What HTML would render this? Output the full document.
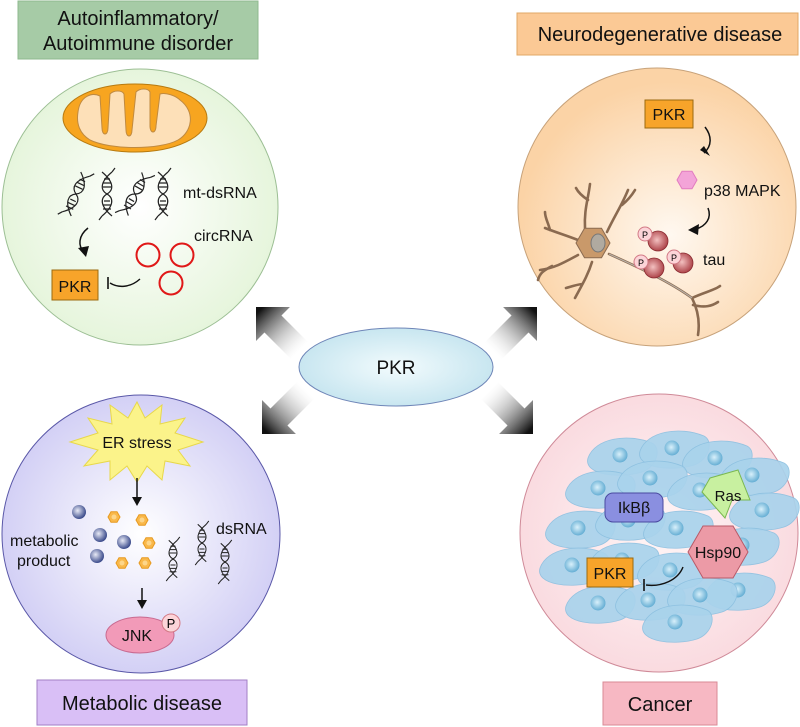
<!DOCTYPE html>
<html><head><meta charset="utf-8"><style>
html,body{margin:0;padding:0;background:#fff;}
svg{display:block;font-family:"Liberation Sans",Arial,sans-serif;}
</style></head><body>
<svg width="800" height="727" viewBox="0 0 800 727" xmlns="http://www.w3.org/2000/svg">
<defs>
<radialGradient id="gG" cx="0.5" cy="0.5" r="0.5"><stop offset="0" stop-color="#ffffff"/><stop offset="1" stop-color="#e6f5dc"/></radialGradient>
<radialGradient id="gO" cx="0.55" cy="0.6" r="0.55"><stop offset="0" stop-color="#fff8f0"/><stop offset="1" stop-color="#fbd3a6"/></radialGradient>
<radialGradient id="gP" cx="0.5" cy="0.5" r="0.5"><stop offset="0" stop-color="#ffffff"/><stop offset="1" stop-color="#d3d0f5"/></radialGradient>
<radialGradient id="gR" cx="0.5" cy="0.5" r="0.5"><stop offset="0" stop-color="#fff5f6"/><stop offset="1" stop-color="#fadbe0"/></radialGradient>
<radialGradient id="gE" cx="0.5" cy="0.5" r="0.5"><stop offset="0" stop-color="#f2fbfd"/><stop offset="1" stop-color="#c8e6f0"/></radialGradient>
<radialGradient id="gBall" cx="0.4" cy="0.4" r="0.6"><stop offset="0" stop-color="#e8eaf6"/><stop offset="1" stop-color="#3c4c8c"/></radialGradient>
<radialGradient id="gTau" cx="0.45" cy="0.45" r="0.6"><stop offset="0" stop-color="#f3c0c0"/><stop offset="1" stop-color="#a83a40"/></radialGradient>
<radialGradient id="gNuc" cx="0.45" cy="0.45" r="0.6"><stop offset="0" stop-color="#d8f0fb"/><stop offset="1" stop-color="#5ba8d0"/></radialGradient>
<linearGradient id="gArr" gradientUnits="userSpaceOnUse" x1="-62" y1="0" x2="-5" y2="0"><stop offset="0" stop-color="#ffffff" stop-opacity="0.2"/><stop offset="1" stop-color="#111"/></linearGradient>
<g id="arrow"><path d="M0,0 L-24,-24 L-24,-12 L-64,-12 L-64,12 L-24,12 L-24,24 Z" fill="url(#gArr)"/></g>
<g id="dna" fill="none" stroke="#222" stroke-width="1.2">
<path d="M-5,-22 C7,-12 7,-4 0,0 C-7,4 -7,12 5,22"/>
<path d="M5,-22 C-7,-12 -7,-4 0,0 C7,4 7,12 -5,22"/>
<path d="M-3,-15 H3 M-4,-11 H4 M-4,-7 H4 M-3,7 H3 M-4,11 H4 M-4,15 H4"/>
<path d="M5,-22 L8,-26 M-5,22 L-8,26"/>
</g>
<g id="cell"><path d="M-32,3 C-25,-17 8,-22 32,-12 C42,-7 37,12 22,17 C0,24 -37,20 -32,3 Z" fill="#a9d3ec" stroke="#8cc0e0" stroke-width="0.8" opacity="0.92"/><circle cx="0" cy="0" r="7.5" fill="url(#gNuc)"/></g>
<g id="hexo"><polygon points="6,0 3,5.2 -3,5.2 -6,0 -3,-5.2 3,-5.2" fill="#f9b84a" stroke="#e79a20" stroke-width="1"/><circle r="2.5" fill="#fdd68a"/></g>
</defs>

<!-- Arrows -->
<use href="#arrow" transform="translate(256,307) rotate(225)"/>
<use href="#arrow" transform="translate(537,307) rotate(-45)"/>
<use href="#arrow" transform="translate(262,434) rotate(135)"/>
<use href="#arrow" transform="translate(533,434) rotate(45)"/>

<!-- Center ellipse -->
<ellipse cx="396" cy="367" rx="97" ry="39" fill="url(#gE)" stroke="#6f86b8" stroke-width="1"/>
<text x="396" y="374" font-size="19" text-anchor="middle" fill="#111">PKR</text>

<!-- Top-left panel -->
<rect x="18" y="1" width="240" height="58" fill="#a6cba6" stroke="#8fb98f"/>
<text x="138" y="25" font-size="20" text-anchor="middle" fill="#111">Autoinflammatory/</text>
<text x="138" y="50" font-size="20" text-anchor="middle" fill="#111">Autoimmune disorder</text>
<circle cx="140" cy="207" r="138" fill="url(#gG)" stroke="#9cbf94" stroke-width="1"/>
<ellipse cx="135" cy="118" rx="72" ry="34" fill="#f7a520" stroke="#b77a10"/>
<path d="M78,112 C80,96 92,92 100,96 L102,128 C102,136 108,136 108,128 L110,94 C114,90 122,90 124,94 L126,130 C126,138 132,138 132,130 L136,92 C140,88 148,88 150,92 L150,126 C150,134 156,134 156,126 L160,94 C166,92 176,96 180,100 C196,112 192,132 178,140 C160,150 110,150 90,140 C80,134 76,124 78,112 Z" fill="#fde0b8" stroke="#c08a40"/>
<use href="#dna" transform="translate(76,194) rotate(25)"/>
<use href="#dna" transform="translate(107,194)"/>
<use href="#dna" transform="translate(135,194) rotate(30)"/>
<use href="#dna" transform="translate(163,194)"/>
<text x="183" y="198" font-size="16" fill="#111">mt-dsRNA</text>
<text x="194" y="241" font-size="16" fill="#111">circRNA</text>
<path d="M88,228 C78,236 78,246 84,252" fill="none" stroke="#111" stroke-width="1.5"/>
<path d="M78,248 L86,257 L89,246 Z" fill="#111"/>
<circle cx="148" cy="255" r="11.5" fill="none" stroke="#e01818" stroke-width="2"/>
<circle cx="182" cy="255" r="11.5" fill="none" stroke="#e01818" stroke-width="2"/>
<circle cx="171" cy="283" r="11.5" fill="none" stroke="#e01818" stroke-width="2"/>
<rect x="52" y="270" width="46" height="30" fill="#f7a42a" stroke="#9b6a10"/>
<text x="75" y="292" font-size="16" text-anchor="middle" fill="#111">PKR</text>
<path d="M140,279 C130,288 118,288 110,283" fill="none" stroke="#111" stroke-width="1.4"/>
<path d="M108,277 L108,289" stroke="#111" stroke-width="1.6"/>

<!-- Top-right panel -->
<rect x="517" y="13" width="281" height="42" fill="#fbc995" stroke="#e2a866"/>
<text x="660" y="41" font-size="20" text-anchor="middle" fill="#111">Neurodegenerative disease</text>
<circle cx="657" cy="207" r="139" fill="url(#gO)" stroke="#c7a27a" stroke-width="1"/>
<rect x="645" y="100" width="48" height="28" fill="#f7a42a" stroke="#9b6a10"/>
<text x="669" y="120" font-size="16" text-anchor="middle" fill="#111">PKR</text>
<path d="M705,127 C712,136 712,146 704,153" fill="none" stroke="#111" stroke-width="1.5"/>
<path d="M700,150 L710,156 L704,146 Z" fill="#111"/>
<polygon points="697,180 692,188.7 682,188.7 677,180 682,171.3 692,171.3" fill="#f3a4d8" stroke="#e27cc0"/>
<text x="704" y="196" font-size="16" fill="#111">p38 MAPK</text>
<path d="M708,208 C712,218 706,226 696,229" fill="none" stroke="#111" stroke-width="1.5"/>
<path d="M688,230 L699,224 L698,235 Z" fill="#111"/>
<!-- neuron -->
<g stroke="#8a6a50" stroke-width="2.6" fill="none" stroke-linecap="round">
<path d="M609,254 C640,268 670,282 692,298 C698,310 700,322 698,335"/>
<path d="M692,298 C705,292 715,290 720,286 M693,305 C705,308 712,306 718,302"/>
<path d="M585,228 C584,210 588,200 590,184 M588,200 C582,196 578,192 576,188"/>
<path d="M607,232 C615,215 622,205 628,190 M622,205 C628,200 632,195 635,190"/>
<path d="M578,240 C565,235 555,232 545,228 M550,230 C548,222 545,218 545,212"/>
<path d="M578,255 C565,262 555,268 540,270 M552,266 C545,270 540,272 538,280"/>
<path d="M592,262 C588,275 582,285 575,298 M582,284 C575,285 570,287 566,288"/>
</g>
<path d="M609,254 C640,268 670,282 692,298" stroke="#b8b0a8" stroke-width="1.2" fill="none"/>
<polygon points="610,243 601.5,257.7 584.5,257.7 576,243 584.5,228.3 601.5,228.3" fill="#c9996a" stroke="#8a6a50"/>
<ellipse cx="598" cy="243" rx="7" ry="9" fill="#b0aaa0" stroke="#777"/>
<circle cx="658" cy="241" r="10" fill="url(#gTau)" stroke="#8a2a30" stroke-width="0.8"/>
<circle cx="645" cy="234" r="7" fill="#fcd4d8" stroke="#d27a86"/><text x="645" y="238" font-size="9" text-anchor="middle">P</text>
<circle cx="654" cy="268" r="10" fill="url(#gTau)" stroke="#8a2a30" stroke-width="0.8"/>
<circle cx="641" cy="262" r="7" fill="#fcd4d8" stroke="#d27a86"/><text x="641" y="266" font-size="9" text-anchor="middle">P</text>
<circle cx="683" cy="263" r="10" fill="url(#gTau)" stroke="#8a2a30" stroke-width="0.8"/>
<circle cx="674" cy="257" r="7" fill="#fcd4d8" stroke="#d27a86"/><text x="674" y="261" font-size="9" text-anchor="middle">P</text>
<text x="703" y="265" font-size="16" fill="#111">tau</text>

<!-- Bottom-left panel -->
<circle cx="141" cy="534" r="139" fill="url(#gP)" stroke="#5a58a8" stroke-width="1"/>
<path d="M137,402 L145,418 L162,405 L160,424 L185,418 L175,433 L203,442 L178,450 L190,466 L165,461 L162,480 L147,466 L137,482 L127,466 L110,480 L110,461 L84,466 L98,450 L70,442 L98,433 L88,418 L112,424 L110,405 L128,418 Z" fill="#fbf38a" stroke="#e8d84a"/>
<text x="137" y="448" font-size="16" text-anchor="middle" fill="#111">ER stress</text>
<path d="M137,478 V500" stroke="#111" stroke-width="1.5"/><path d="M132,497 L137,506 L142,497 Z" fill="#111"/>
<circle cx="79" cy="512" r="7" fill="url(#gBall)"/>
<circle cx="100" cy="535" r="7" fill="url(#gBall)"/>
<circle cx="124" cy="542" r="7" fill="url(#gBall)"/>
<circle cx="97" cy="556" r="7" fill="url(#gBall)"/>
<use href="#hexo" transform="translate(114,517)"/>
<use href="#hexo" transform="translate(142,520)"/>
<use href="#hexo" transform="translate(149,543)"/>
<use href="#hexo" transform="translate(122,563)"/>
<use href="#hexo" transform="translate(145,563)"/>
<text x="10" y="546" font-size="16" fill="#111">metabolic</text>
<text x="17" y="566" font-size="16" fill="#111">product</text>
<use href="#dna" transform="translate(173,559) scale(0.85)"/>
<use href="#dna" transform="translate(202,543) scale(0.85)"/>
<use href="#dna" transform="translate(225,562) scale(0.85)"/>
<text x="216" y="534" font-size="16" fill="#111">dsRNA</text>
<path d="M142,588 V602" stroke="#111" stroke-width="1.5"/><path d="M137,600 L142,609 L147,600 Z" fill="#111"/>
<ellipse cx="140" cy="635" rx="34" ry="18" fill="#f29ab8" stroke="#c86a90"/>
<text x="137" y="641" font-size="16" text-anchor="middle" fill="#111">JNK</text>
<circle cx="171" cy="623" r="9" fill="#fcd4d8" stroke="#d27a86"/><text x="171" y="628" font-size="13" text-anchor="middle">P</text>
<rect x="37" y="680" width="210" height="45" fill="#d9bff6" stroke="#a27fc4"/>
<text x="142" y="710" font-size="20" text-anchor="middle" fill="#111">Metabolic disease</text>

<!-- Bottom-right panel -->
<circle cx="659" cy="533" r="139" fill="url(#gR)" stroke="#cf8a98" stroke-width="1"/>
<use href="#cell" transform="translate(620,455)"/>
<use href="#cell" transform="translate(672,448)"/>
<use href="#cell" transform="translate(715,458)"/>
<use href="#cell" transform="translate(752,475)"/>
<use href="#cell" transform="translate(598,488)"/>
<use href="#cell" transform="translate(650,478)"/>
<use href="#cell" transform="translate(700,490)"/>
<use href="#cell" transform="translate(762,510)"/>
<use href="#cell" transform="translate(578,528)"/>
<use href="#cell" transform="translate(628,520)"/>
<use href="#cell" transform="translate(676,528)"/>
<use href="#cell" transform="translate(742,545)"/>
<use href="#cell" transform="translate(572,565)"/>
<use href="#cell" transform="translate(622,560)"/>
<use href="#cell" transform="translate(670,570)"/>
<use href="#cell" transform="translate(738,590)"/>
<use href="#cell" transform="translate(598,603)"/>
<use href="#cell" transform="translate(648,600)"/>
<use href="#cell" transform="translate(700,595)"/>
<use href="#cell" transform="translate(675,622)"/>
<rect x="605" y="493" width="58" height="29" rx="8" fill="#8a8fe0" stroke="#4a4aa0"/>
<text x="634" y="513" font-size="16" text-anchor="middle" fill="#111">IkBβ</text>
<path d="M710,478 L738,470 L750,500 L732,500 L725,518 L702,492 Z" fill="#c8f0a0" stroke="#7ab850"/>
<text x="728" y="501" font-size="15" text-anchor="middle" fill="#111">Ras</text>
<polygon points="748,552 733,578 703,578 688,552 703,526 733,526" fill="#ec9aa6" stroke="#b85a68"/>
<text x="718" y="558" font-size="16" text-anchor="middle" fill="#111">Hsp90</text>
<rect x="587" y="558" width="46" height="29" fill="#f7a42a" stroke="#9b6a10"/>
<text x="610" y="579" font-size="16" text-anchor="middle" fill="#111">PKR</text>
<path d="M683,567 C678,580 662,587 646,585" fill="none" stroke="#111" stroke-width="1.4"/>
<path d="M644,579 L644,591" stroke="#111" stroke-width="1.6"/>
<rect x="603" y="682" width="114" height="43" fill="#f7b8c3" stroke="#d88a96"/>
<text x="660" y="711" font-size="20" text-anchor="middle" fill="#111">Cancer</text>
</svg>
</body></html>
